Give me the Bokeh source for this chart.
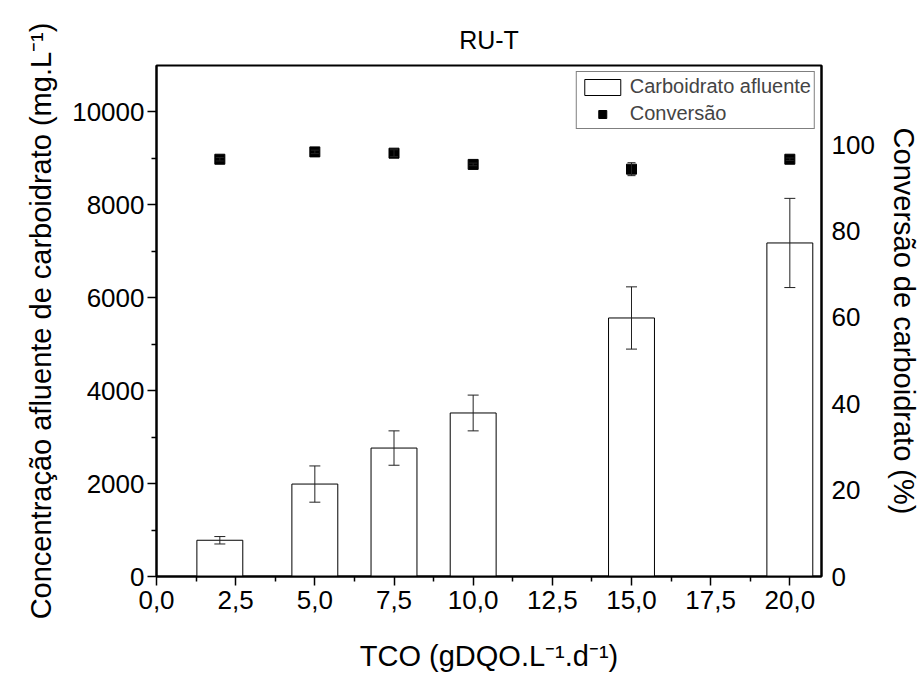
from bokeh.plotting import figure
from bokeh.models import (Range1d, LinearAxis, FixedTicker, Whisker, TeeHead,
                          ColumnDataSource, Legend, LegendItem, Title)
from bokeh.embed import file_html
from bokeh.resources import INLINE

# ---- data ----
tco = [2.0, 5.0, 7.5, 10.0, 15.0, 20.0]
carb = [780, 1990, 2765, 3520, 5565, 7180]
carb_err = [80, 390, 370, 385, 670, 960]
conv = [96.6, 98.3, 98.0, 95.4, 94.3, 96.6]
conv_err = [0.4, 0.4, 0.8, 0.3, 1.5, 0.3]

x_ticks = [0.0, 2.5, 5.0, 7.5, 10.0, 12.5, 15.0, 17.5, 20.0]
x_tick_labels = ["0,0", "2,5", "5,0", "7,5", "10,0", "12,5", "15,0", "17,5", "20,0"]
x_minor = [1.25, 3.75, 6.25, 8.75, 11.25, 13.75, 16.25, 18.75]
left_ticks = [0, 2000, 4000, 6000, 8000, 10000]
left_minor = [1000, 3000, 5000, 7000, 9000]
right_ticks = [0, 20, 40, 60, 80, 100]

title_text = "RU-T"
x_label = "TCO (gDQO.L\u207b\u00b9.d\u207b\u00b9)"
left_label = "Concentração afluente de carboidrato (mg.L\u207b\u00b9)"
right_label = "Conversão de carboidrato (%)"

FONT = "Liberation Sans"

bar_src = ColumnDataSource(dict(
    x=tco, top=carb,
    upper=[v + e for v, e in zip(carb, carb_err)],
    lower=[v - e for v, e in zip(carb, carb_err)]))
pt_src = ColumnDataSource(dict(
    x=tco, y=conv,
    upper=[v + e for v, e in zip(conv, conv_err)],
    lower=[v - e for v, e in zip(conv, conv_err)]))

p = figure(width=922, height=675, output_backend="svg", toolbar_location=None,
           x_range=Range1d(0, 21), y_range=Range1d(0, 11000),
           min_border_left=156, min_border_right=97, min_border_top=65,
           min_border_bottom=99)
p.extra_y_ranges = {"conv": Range1d(0, 118.3)}

p.xgrid.visible = False
p.ygrid.visible = False
p.outline_line_color = "black"
p.outline_line_width = 2
p.outline_line_alpha = 1
p.background_fill_color = "white"
p.border_fill_color = "white"

xa = p.below[0]
ya = p.left[0]

p.add_layout(Title(text=title_text, align="center", vertical_align="top",
                   text_font=FONT, text_font_size="25px", text_font_style="normal",
                   text_color="black", standoff=20), "above")

# x axis
xa.ticker = FixedTicker(ticks=x_ticks, minor_ticks=x_minor)
xa.major_label_overrides = {t: l for t, l in zip(x_ticks, x_tick_labels)}
xa.axis_label = x_label
# left axis
ya.ticker = FixedTicker(ticks=left_ticks, minor_ticks=left_minor)
ya.axis_label = left_label

for ax in (xa, ya):
    ax.axis_line_color = "black"
    ax.axis_line_width = 2
    ax.major_tick_line_color = "black"
    ax.major_tick_line_width = 1.5
    ax.minor_tick_line_color = "black"
    ax.minor_tick_line_width = 1.5
    ax.major_tick_out = 9
    ax.major_tick_in = 0
    ax.minor_tick_out = 5
    ax.minor_tick_in = 0
    ax.major_label_text_font = FONT
    ax.major_label_text_font_size = "26px"
    ax.major_label_text_color = "black"
    ax.axis_label_text_font = FONT
    ax.axis_label_text_font_size = "29px"
    ax.axis_label_text_font_style = "normal"
    ax.axis_label_text_color = "black"
xa.major_label_standoff = 5
xa.axis_label_standoff = 28
ya.major_label_standoff = 3
ya.axis_label_standoff = 12

ra = LinearAxis(y_range_name="conv", ticker=FixedTicker(ticks=right_ticks, minor_ticks=[]),
                axis_label=right_label)
ra.axis_line_color = "black"
ra.axis_line_width = 2
ra.major_tick_out = 0
ra.major_tick_in = 0
ra.minor_tick_out = 0
ra.minor_tick_in = 0
ra.major_label_standoff = 10
ra.major_label_text_font = FONT
ra.major_label_text_font_size = "26px"
ra.major_label_text_color = "black"
ra.axis_label_text_font = FONT
ra.axis_label_text_font_size = "29px"
ra.axis_label_text_font_style = "normal"
ra.axis_label_text_color = "black"
ra.axis_label_standoff = 10
p.add_layout(ra, "right")

bars = p.vbar(x="x", top="top", width=1.45, bottom=0, source=bar_src,
              fill_color="white", line_color="black", line_width=1)
p.add_layout(Whisker(source=bar_src, base="x", upper="upper", lower="lower",
                     level="annotation", line_color="#222222", line_width=1,
                     upper_head=TeeHead(size=11, line_color="#222222", line_width=1),
                     lower_head=TeeHead(size=11, line_color="#222222", line_width=1)))

pts = p.scatter(x="x", y="y", source=pt_src, y_range_name="conv", marker="square",
                size=10, fill_color="black", line_color="black")
p.add_layout(Whisker(source=pt_src, base="x", upper="upper", lower="lower",
                     y_range_name="conv", level="annotation",
                     line_color="#222222", line_width=1,
                     upper_head=TeeHead(size=8, line_color="#222222", line_width=1),
                     lower_head=TeeHead(size=8, line_color="#222222", line_width=1)))

legend = Legend(items=[LegendItem(label="Carboidrato afluente", renderers=[bars]),
                       LegendItem(label="Conversão", renderers=[pts])],
                location="top_right", margin=6, padding=3, spacing=4,
                glyph_width=45, glyph_height=20, label_height=20, label_standoff=5,
                label_text_font=FONT, label_text_font_size="20px",
                border_line_color="black", border_line_width=1,
                background_fill_alpha=1)
p.add_layout(legend, "center")

open("out.html", "w").write(file_html(p, INLINE))
